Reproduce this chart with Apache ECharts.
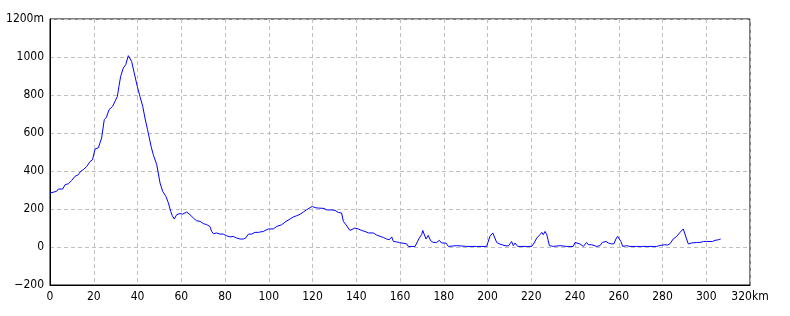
<!DOCTYPE html>
<html><head><meta charset="utf-8">
<script src="https://cdn.jsdelivr.net/npm/echarts@6/dist/echarts.min.js"></script>
<style>html,body{margin:0;padding:0;background:#fff}#c{width:790px;height:316px}</style>
</head><body><div id="c"></div>
<script>
const distanceKm = [0,3,3.8,5.8,6.9,8.4,9.9,11.4,12.9,13.4,14,15.2,16.8,18.3,19.4,20.6,22.1,23.6,24.8,25.8,27,28.6,29.7,30.8,31.5,32.3,33.5,34.6,35.3,35.8,36.6,37.3,38.5,39.9,41.1,42.4,43.4,44.6,46.2,47.2,48.8,50.3,51.5,53,54.1,55.2,55.9,56.8,57.9,59.4,59.9,60.6,62.5,64,65.5,67,68.6,70.1,71.6,73.1,73.9,74.7,76.2,77.7,79.2,80.8,82.3,83.8,85.3,86.9,88.4,89.4,90.7,92.2,93.7,95.2,96,97.5,99.8,102.1,103.6,105.9,107.9,109.7,111.2,112.8,114.3,115.8,117.3,118.9,119.9,121.1,122.7,123.4,125.3,126.5,128.8,130.3,131.8,133.3,134.1,135.3,137.1,137.9,139.4,140.9,142.5,144,145.5,146.3,147.8,149.3,150.9,152.4,153.9,155.1,156.2,157,158.4,159.7,160.3,163,163.8,166.9,167.6,168.8,169.9,170.4,171.1,171.9,172.9,174,175.2,176.7,178,179,179.8,181,182.1,185.9,190.5,195.1,199.6,201.1,202.4,203.1,204.2,205.7,208,209.5,210.3,211,211.8,212.6,213.8,217.9,220.2,221.3,222.5,224,224.8,225.5,226.3,227.1,228.3,230.1,233.1,236.2,239.2,240,240.8,242.3,243.8,244.6,245.3,246.1,247.6,248.4,249.9,251.4,252.5,253.3,254.2,255.2,256.8,257.8,258.7,259.5,260.3,261,261.8,263.6,265.1,268.2,270.4,271.2,272,277.3,278.8,281.1,282.2,283.4,284.9,286.5,288,289.5,290.3,291,291.8,293.3,294,295.6,297.1,298.7,300.2,301,301.7,302.9,304,305.5,306.6];
const elevationM = [284,293,305,305,328,333,350,372,380,372,398,407,424,450,459,516,522,574,670,683,723,740,766,793,845,898,942,959,962,1007,1012,977,916,845,793,740,679,617,530,486,433,337,293,266,232,187,165,147,170,176,182,173,184,170,153,138,135,123,118,108,82,70,74,68,68,59,53,56,47,42,42,47,68,68,77,77,68,82,95,95,108,117,135,147,158,165,172,184,196,207,214,207,205,196,203,195,195,193,182,179,135,117,87,95,100,95,87,82,74,79,74,63,56,50,42,38,53,29,27,23,17,17,3,3,12,47,65,87,82,42,61,33,24,24,35,21,18,21,3,7,3,3,3,56,74,65,24,15,7,5,17,29,7,21,3,3,3,21,47,65,77,65,82,65,7,3,7,3,3,24,29,16,3,3,24,12,12,3,3,7,24,17,29,21,16,17,42,56,56,29,3,7,3,3,3,12,3,3,8,12,10,17,42,56,77,95,89,42,16,21,16,24,24,29,29,24,29,29,35,38,42];
const xTicks = {min:0, max:320, interval:20, unit:'km'};
const yTicks = {min:-200, max:1200, interval:200, unit:'m'};

const points = distanceKm.map((d,i)=>[d, elevationM[i]]);
const font = "'DejaVu Sans Condensed','Liberation Sans Narrow','Liberation Sans',sans-serif";
const chart = echarts.init(document.getElementById('c'), null, {renderer:'canvas'});
chart.setOption({
  animation:false,
  grid:{left:50,right:40,top:19,bottom:31,show:true,borderColor:'#000',borderWidth:1,backgroundColor:'transparent'},
  xAxis:{type:'value',min:xTicks.min,max:xTicks.max,interval:xTicks.interval,
    axisLine:{show:true,onZero:false,lineStyle:{color:'#000',width:1}},
    axisTick:{show:false},
    axisLabel:{color:'#000',fontFamily:font,fontSize:12,margin:6,
      formatter:v=>v===xTicks.max?v+xTicks.unit:String(v)},
    splitLine:{show:true,lineStyle:{color:'#c0c0c0',type:[4,3],width:1}}},
  yAxis:{type:'value',min:yTicks.min,max:yTicks.max,interval:yTicks.interval,
    axisLine:{show:true,lineStyle:{color:'#000',width:1}},
    axisTick:{show:false},
    axisLabel:{color:'#000',fontFamily:font,fontSize:12,margin:6,
      formatter:v=>v===yTicks.max?v+yTicks.unit:(v<0?'\u2212'+Math.abs(v):String(v))},
    splitLine:{show:true,lineStyle:{color:'#c0c0c0',type:[4,3],width:1}}},
  series:[{type:'line',data:points,showSymbol:false,symbol:'none',
    lineStyle:{color:'#0000ff',width:1},itemStyle:{color:'#0000ff'}}]
});
</script></body></html>
